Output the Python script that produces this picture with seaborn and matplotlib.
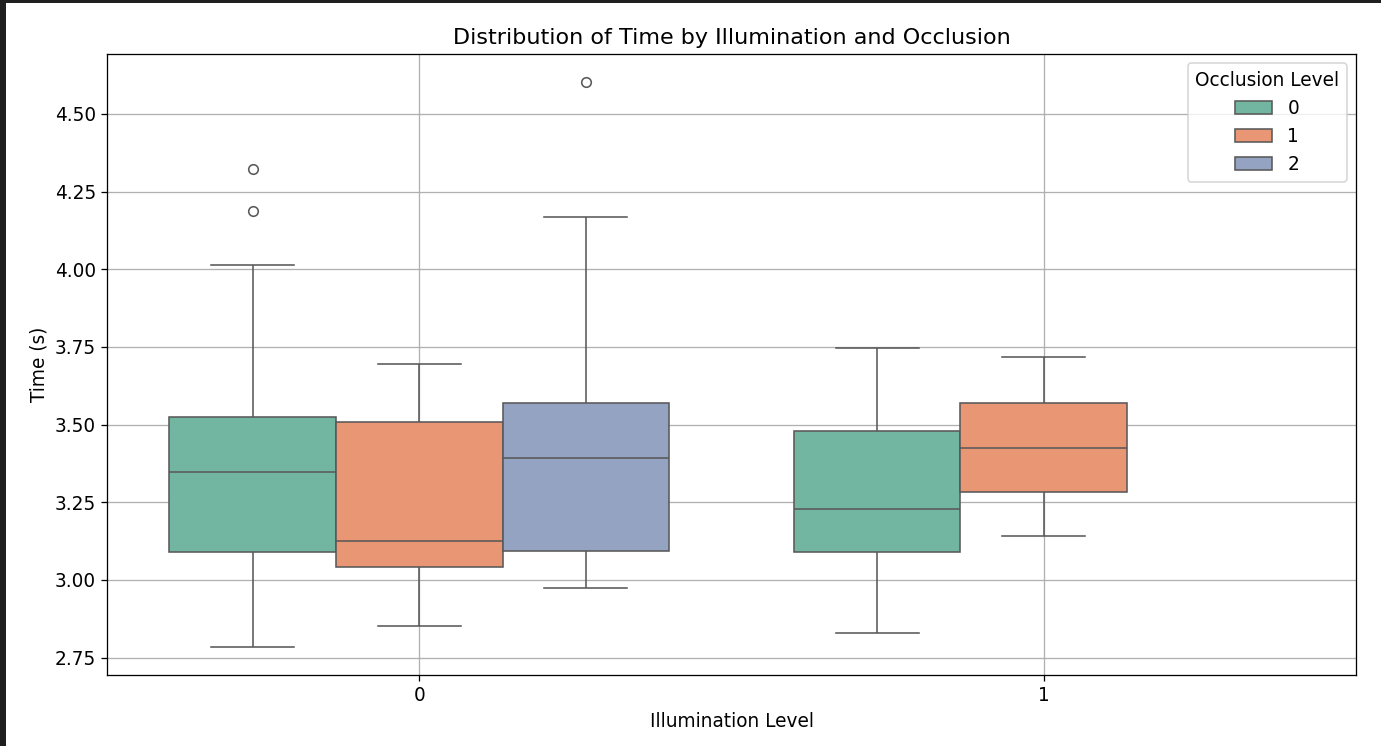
import matplotlib
matplotlib.use("Agg")
import matplotlib.pyplot as plt
from matplotlib.patches import Rectangle
import pandas as pd
import seaborn as sns

# observed times (s) per illumination / occlusion group
time_i0_o0 = [2.785, 2.95, 3.04, 3.091, 3.18, 3.27, 3.349, 3.42, 3.49, 3.523, 4.015, 4.186, 4.322]
time_i0_o1 = [2.853, 2.96, 3.043, 3.09, 3.127, 3.30, 3.510, 3.62, 3.694]
time_i0_o2 = [2.975, 3.03, 3.094, 3.25, 3.391, 3.48, 3.571, 4.167, 4.602]
time_i1_o0 = [2.830, 2.99, 3.089, 3.16, 3.227, 3.36, 3.481, 3.60, 3.748]
time_i1_o1 = [3.140, 3.22, 3.283, 3.35, 3.426, 3.50, 3.571, 3.65, 3.719]

groups = [
    (0, 0, time_i0_o0),
    (0, 1, time_i0_o1),
    (0, 2, time_i0_o2),
    (1, 0, time_i1_o0),
    (1, 1, time_i1_o1),
]

rows = []
for illum, occl, vals in groups:
    for v in vals:
        rows.append({"Illumination": illum, "Occlusion": occl, "Time": v})
df = pd.DataFrame(rows)

plt.rcParams["font.size"] = 11.6

fig = plt.figure(figsize=(1381 / 115, 746 / 115), dpi=115)
ax = fig.add_axes([107 / 1381, 1 - 675 / 746, (1356 - 107) / 1381, (675 - 54) / 746])

sns.boxplot(data=df, x="Illumination", y="Time", hue="Occlusion",
            hue_order=[0, 1, 2], palette="Set2", ax=ax)

ax.set_axisbelow(True)
ax.grid(True)
ax.set_title("Distribution of Time by Illumination and Occlusion")
ax.set_xlabel("Illumination Level")
ax.set_ylabel("Time (s)")
ax.legend(title="Occlusion Level", loc="upper right")

# dark screenshot frame on the left and top edges
fig.patches.append(Rectangle((0, 0), 6 / 1381, 1, transform=fig.transFigure,
                             facecolor="#1f1f1f", edgecolor="none", zorder=10))
fig.patches.append(Rectangle((0, 1 - 3 / 746), 1, 3 / 746, transform=fig.transFigure,
                             facecolor="#1f1f1f", edgecolor="none", zorder=10))

fig.savefig("out.png", dpi=115)
